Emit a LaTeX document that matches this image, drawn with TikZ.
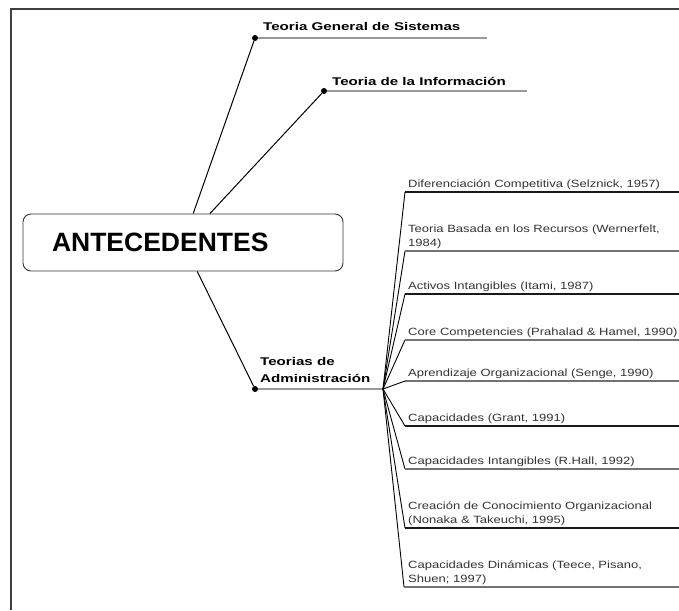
\documentclass[tikz,border=0pt]{standalone}
\usepackage{fontspec}
\setmainfont{Liberation Sans}
\newfontfamily\bstretch[FakeStretch=1.35]{Liberation Sans}
\newfontfamily\sstretch[FakeStretch=1.24]{Liberation Sans}
\begin{document}
\begin{tikzpicture}[x=1pt,y=-1pt,
  frameline/.style={line width=1.6pt,black!75},
  antbox/.style={draw=black!80,line width=0.9pt,rounded corners=8pt,minimum width=320pt,minimum height=57pt,
     text width=262pt,inner xsep=29pt,inner ysep=0pt,align=left,font=\bfseries\fontsize{26.5}{30}\selectfont},
  dot/.style={circle,fill=black,inner sep=0pt,minimum size=6pt},
  blabel/.style={inner sep=0pt,font=\bstretch\bfseries\fontsize{11.2}{17}\selectfont,align=left},
  subtxt/.style={inner sep=0pt,font=\sstretch\fontsize{10.5}{14.5}\selectfont,text=black!80,align=left,anchor=south west},
  gline/.style={line width=2pt,black!40},
  conn/.style={line width=1pt,black},
  fan/.style={line width=0.9pt,black},
  ulk/.style={line width=1.3pt,black!90},
  ulg/.style={line width=1.3pt,black!55}]
\useasboundingbox (0,0) rectangle (679,610);
% frame
\coordinate (fc) at (11,9);
\coordinate (fr) at (679,9);
\coordinate (fb) at (11,610);
\draw[frameline] (fr) -- (fc) -- (fb);
% central box
\node[antbox] (ant) at (183,242.5) {ANTECEDENTES};
% first-level dots
\node[dot] (d1) at (255,38) {};
\node[dot] (d2) at (324,91) {};
\node[dot] (d3) at (255,389) {};
\coordinate (e1) at (487,38);
\coordinate (e2) at (527,91);
\coordinate (br) at (383,389);
\draw[gline] (d1) -- (e1);
\draw[gline] (d2) -- (e2);
\draw[gline] (d3) -- (br);
\draw[conn] (ant) -- (d1);
\draw[conn] (ant) -- (d2);
\draw[conn] (ant) -- (d3);
\node[blabel,anchor=base west] (l1) at (263,31) {Teoria General de Sistemas};
\node[blabel,anchor=base west] (l2) at (332,85) {Teoria de la Información};
\node[blabel,anchor=south west] (l3) at (260,383) {Teorias de\\Administración};
% sub items
\coordinate (u1) at (405,192); \coordinate (v1) at (679,192);
\coordinate (u2) at (405,251); \coordinate (v2) at (679,251);
\coordinate (u3) at (405,294); \coordinate (v3) at (679,294);
\coordinate (u4) at (405,340); \coordinate (v4) at (679,340);
\coordinate (u5) at (405,381); \coordinate (v5) at (679,381);
\coordinate (u6) at (405,426); \coordinate (v6) at (679,426);
\coordinate (u7) at (405,469); \coordinate (v7) at (679,469);
\coordinate (u8) at (405,528); \coordinate (v8) at (679,528);
\coordinate (u9) at (404,587); \coordinate (v9) at (679,587);
\foreach \i in {1,...,9} \draw[fan] (br) -- (u\i);
\draw[ulk] (u1) -- (v1);
\draw[ulg] (u2) -- (v2);
\draw[ulk] (u3) -- (v3);
\draw[ulg] (u4) -- (v4);
\draw[ulg] (u5) -- (v5);
\draw[ulk] (u6) -- (v6);
\draw[ulg] (u7) -- (v7);
\draw[ulk] (u8) -- (v8);
\draw[ulg] (u9) -- (v9);
\node[subtxt] (s1) at (408,190) {Diferenciación Competitiva (Selznick, 1957)};
\node[subtxt] (s2) at (408,249) {Teoria Basada en los Recursos (Wernerfelt,\\1984)};
\node[subtxt] (s3) at (408,292) {Activos Intangibles (Itami, 1987)};
\node[subtxt] (s4) at (408,338) {Core Competencies (Prahalad \& Hamel, 1990)};
\node[subtxt] (s5) at (408,379) {Aprendizaje Organizacional (Senge, 1990)};
\node[subtxt] (s6) at (408,424) {Capacidades (Grant, 1991)};
\node[subtxt] (s7) at (408,467) {Capacidades Intangibles (R.Hall, 1992)};
\node[subtxt] (s8) at (408,526) {Creación de Conocimiento Organizacional\\(Nonaka \& Takeuchi, 1995)};
\node[subtxt] (s9) at (408,585) {Capacidades Dinámicas (Teece, Pisano,\\Shuen; 1997)};
\end{tikzpicture}
\end{document}
